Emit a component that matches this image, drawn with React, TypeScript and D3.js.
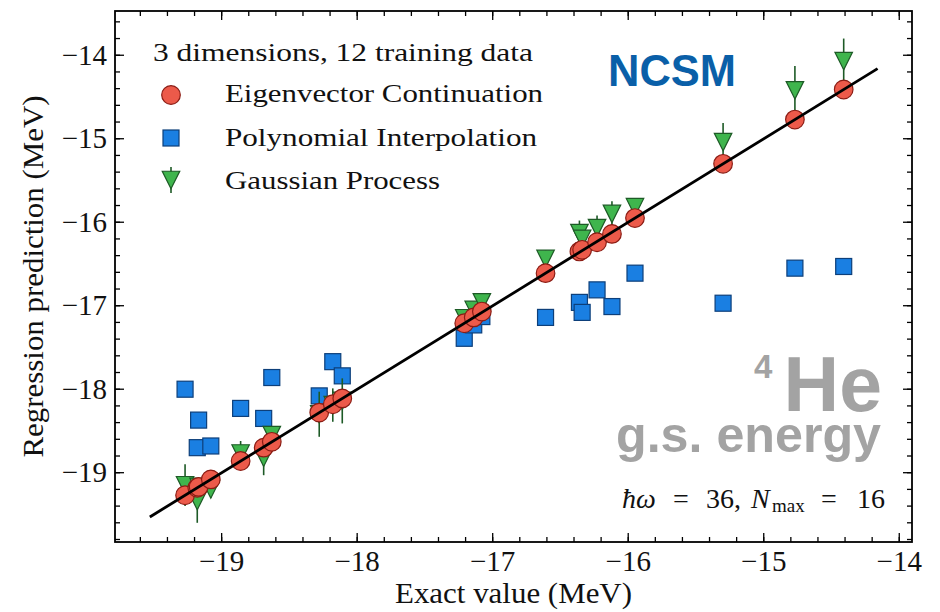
import React from "react";
import * as d3 from "d3";

const exact = [-19.27, -19.18, -19.17, -19.08, -18.86, -18.69, -18.63, -18.28, -18.18, -18.11, -17.21, -17.14, -17.08, -16.61, -16.36, -16.34, -16.23, -16.12, -15.95, -15.30, -14.77, -14.41];
const ecPred = [-19.27, -19.18, -19.17, -19.08, -18.86, -18.70, -18.63, -18.28, -18.18, -18.11, -17.21, -17.14, -17.07, -16.61, -16.35, -16.33, -16.24, -16.14, -15.95, -15.30, -14.77, -14.41];
const piPred = [-18.00, -18.70, -18.37, -18.68, -18.23, -18.35, -17.86, -18.08, -17.67, -17.84, -17.39, -17.23, -17.13, -17.14, -16.96, -17.08, -16.81, -17.01, -16.61, -16.97, -16.55, -16.53];
const gpPred = [-19.15, -19.34, -19.17, -19.20, -18.77, -18.82, -18.55, -18.30, -18.19, -18.14, -17.15, -17.05, -16.96, -16.44, -16.13, -16.20, -16.07, -15.90, -15.82, -15.04, -14.42, -14.07];
const gpErr = [0.25, 0.26, 0.1, 0.1, 0.15, 0.21, 0.1, 0.27, 0.2, 0.27, 0.08, 0.08, 0.08, 0.1, 0.15, 0.12, 0.15, 0.15, 0.1, 0.23, 0.29, 0.27];
const xTicks = [-19, -18, -17, -16, -15, -14];
const yTicks = [-19, -18, -17, -16, -15, -14];
const diagRange = [-19.53, -14.16];
const legendLabels = ["Eigenvector Continuation", "Polynomial Interpolation", "Gaussian Process"];

const W = 940, H = 612;
const L = 115, R = 912, T = 11, B = 542;
const serif = "'Liberation Serif', 'DejaVu Serif', serif";
const sans = "'Liberation Sans', Arial, sans-serif";

const C_RED = "#ec5a4a", C_RED_E = "#8a1c14";
const C_BLUE = "#1a7fe2", C_BLUE_E = "#0d3f7a";
const C_GREEN = "#3fb54d", C_GREEN_E = "#1d5a26";

function tri(cx: number, cy: number, s: number) {
  const h = s / 2;
  return `M${cx},${cy + h}L${cx - h},${cy - h}L${cx + h},${cy - h}Z`;
}

export default function App() {
  const x = d3.scaleLinear().domain([-19.787, -13.906]).range([L, R]);
  const y = d3.scaleLinear().domain([-19.83, -13.47]).range([B, T]);
  const minorX = d3.range(-19.8, -13.9, 0.2).map((v) => Math.round(v * 10) / 10).filter((v) => x(v) > L + 1 && x(v) < R - 1);
  const minorY = d3.range(-19.8, -13.4, 0.2).map((v) => Math.round(v * 10) / 10).filter((v) => y(v) < B - 1 && y(v) > T + 1);
  const line = d3.line<number>().x((d) => x(d)).y((d) => y(d));
  const MAJ = 9, MIN = 5;
  return (
    <svg width={W} height={H} style={{ position: "absolute", left: 0, top: 0, background: "#fff" }}>
      <rect x={0} y={0} width={W} height={H} fill="#fff" />
      {/* ticks */}
      <g stroke="#000" strokeWidth={1.3}>
        {xTicks.map((t) => (
          <g key={"xt" + t}>
            <line x1={x(t)} x2={x(t)} y1={B} y2={B - MAJ} />
            <line x1={x(t)} x2={x(t)} y1={T} y2={T + MAJ} />
          </g>
        ))}
        {minorX.map((t) => (
          <g key={"xm" + t}>
            <line x1={x(t)} x2={x(t)} y1={B} y2={B - MIN} />
            <line x1={x(t)} x2={x(t)} y1={T} y2={T + MIN} />
          </g>
        ))}
        {yTicks.map((t) => (
          <g key={"yt" + t}>
            <line x1={L} x2={L + MAJ} y1={y(t)} y2={y(t)} />
            <line x1={R} x2={R - MAJ} y1={y(t)} y2={y(t)} />
          </g>
        ))}
        {minorY.map((t) => (
          <g key={"ym" + t}>
            <line x1={L} x2={L + MIN} y1={y(t)} y2={y(t)} />
            <line x1={R} x2={R - MIN} y1={y(t)} y2={y(t)} />
          </g>
        ))}
      </g>
      {/* tick labels */}
      <g fontFamily={serif} fontSize={29} fill="#111">
        {xTicks.map((t) => (
          <text key={"xl" + t} x={x(t)} y={571} textAnchor="middle">{"\u2212" + Math.abs(t)}</text>
        ))}
        {yTicks.map((t) => (
          <text key={"yl" + t} x={107} y={y(t) + 9.5} textAnchor="end">{"\u2212" + Math.abs(t)}</text>
        ))}
      </g>
      <text x={(L + R) / 2} y={603} textAnchor="middle" fontFamily={serif} fontSize={29} textLength={237} lengthAdjust="spacingAndGlyphs" fill="#111">Exact value (MeV)</text>
      <text transform={`translate(43,${(T + B) / 2}) rotate(-90)`} textAnchor="middle" fontFamily={serif} fontSize={29} textLength={362} lengthAdjust="spacingAndGlyphs" fill="#111">Regression prediction (MeV)</text>

      {/* PI squares */}
      <g>
        {exact.map((e, i) => (
          <rect key={"pi" + i} x={x(e) - 8} y={y(piPred[i]) - 8} width={16} height={16} fill={C_BLUE} stroke={C_BLUE_E} strokeWidth={1.2} />
        ))}
      </g>
      {/* GP */}
      <g>
        {exact.map((e, i) => (
          <line key={"ge" + i} x1={x(e)} x2={x(e)} y1={y(gpPred[i] - gpErr[i])} y2={y(gpPred[i] + gpErr[i])} stroke={C_GREEN_E} strokeWidth={1.6} />
        ))}
        {exact.map((e, i) => (
          <path key={"gp" + i} d={tri(x(e), y(gpPred[i]), 17.5)} fill={C_GREEN} stroke={C_GREEN_E} strokeWidth={1.2} />
        ))}
      </g>
      {/* EC circles */}
      <g>
        {exact.map((e, i) => (
          <circle key={"ec" + i} cx={x(e)} cy={y(ecPred[i])} r={9.3} fill={C_RED} stroke={C_RED_E} strokeWidth={1.2} />
        ))}
      </g>
      {/* diagonal */}
      <path d={line(diagRange) || ""} stroke="#000" strokeWidth={2.8} fill="none" />

      {/* frame */}
      <rect x={L} y={T} width={R - L} height={B - T} fill="none" stroke="#000" strokeWidth={1.8} />

      {/* legend */}
      <text x={153} y={61} fontFamily={serif} fontSize={26} textLength={380} lengthAdjust="spacingAndGlyphs" fill="#111">3 dimensions, 12 training data</text>
      <circle cx={171} cy={95} r={9.3} fill={C_RED} stroke={C_RED_E} strokeWidth={1.2} />
      <rect x={163} y={130} width={16} height={16} fill={C_BLUE} stroke={C_BLUE_E} strokeWidth={1.2} />
      <line x1={171} x2={171} y1={167} y2={193} stroke={C_GREEN_E} strokeWidth={1.6} />
      <path d={tri(171, 180, 17.5)} fill={C_GREEN} stroke={C_GREEN_E} strokeWidth={1.2} />
      <text x={225} y={102} fontFamily={serif} fontSize={26} textLength={318} lengthAdjust="spacingAndGlyphs" fill="#111">{legendLabels[0]}</text>
      <text x={225} y={145.5} fontFamily={serif} fontSize={26} textLength={312} lengthAdjust="spacingAndGlyphs" fill="#111">{legendLabels[1]}</text>
      <text x={225} y={189} fontFamily={serif} fontSize={26} textLength={215} lengthAdjust="spacingAndGlyphs" fill="#111">{legendLabels[2]}</text>

      {/* annotations */}
      <text x={608} y={86} fontFamily={sans} fontWeight="bold" fontSize={45} textLength={128} lengthAdjust="spacingAndGlyphs" fill="#0a5fa8">NCSM</text>
      <text x={882} y={411} textAnchor="end" fontFamily={sans} fontWeight="bold" fontSize={77} fill="#a3a3a3">He</text>
      <text x={754} y={378} fontFamily={sans} fontWeight="bold" fontSize={33} fill="#a3a3a3">4</text>
      <text x={881} y={452} textAnchor="end" fontFamily={sans} fontWeight="bold" fontSize={50} textLength={265} lengthAdjust="spacingAndGlyphs" fill="#a3a3a3">g.s. energy</text>
      <text y={508} fontFamily={serif} fontSize={28} fill="#111">
        <tspan x={622} fontStyle="italic">ħω</tspan>
        <tspan x={673}>=</tspan>
        <tspan x={706}>36,</tspan>
        <tspan x={751} fontStyle="italic">N</tspan>
        <tspan x={772} fontSize={19} dy={4}>max</tspan>
        <tspan x={821} dy={-4}>=</tspan>
        <tspan x={857}>16</tspan>
      </text>
    </svg>
  );
}
